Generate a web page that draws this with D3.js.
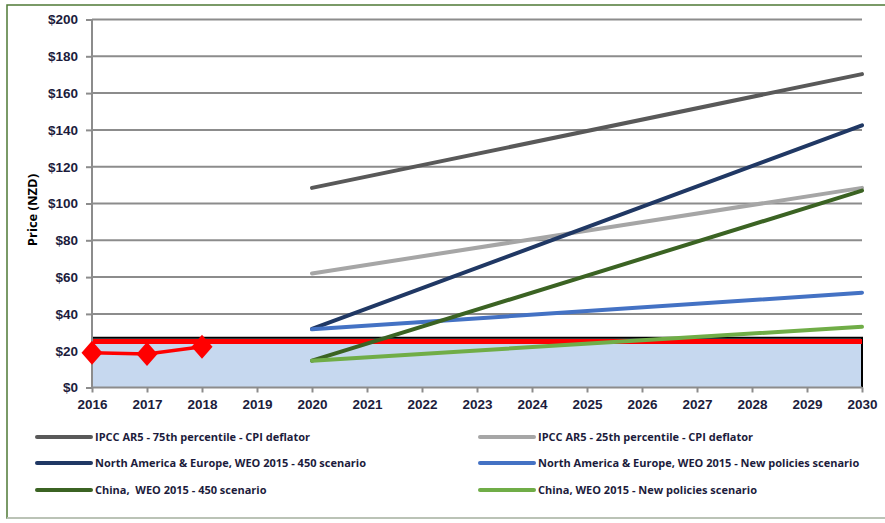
<!DOCTYPE html>
<html>
<head>
<meta charset="utf-8">
<script src="https://cdn.jsdelivr.net/npm/d3@7"></script>
<style>
  body { margin: 0; background: #fff; }
  svg { display: block; font-family: "Open Sans", "Liberation Sans", sans-serif; }
</style>
</head>
<body>
<div id="container"></div>
<script>
/* DATA */
const years = d3.range(2016, 2031);
const yTicks = [0, 20, 40, 60, 80, 100, 120, 140, 160, 180, 200];

// fixed price band (2016-2030)
const bandYears = [2016, 2030];
const bandTop = [27, 27];
const capPrice = [25, 25];

// actual prices
const actualYears = [2016, 2017, 2018];
const actualPrice = [18.9, 18.2, 22.2];

// projections (2020 -> 2030)
const projYears = [2020, 2030];
const ipcc75 = [108.5, 170.3];
const ipcc25 = [62, 108.5];
const naeWeo450 = [31.8, 142.5];
const naeWeoNew = [31.6, 51.5];
const chinaWeo450 = [14.6, 107];
const chinaWeoNew = [14.6, 33];

const seriesNames = [
  "IPCC AR5 - 75th percentile - CPI deflator",
  "IPCC AR5 - 25th percentile - CPI deflator",
  "North America & Europe, WEO 2015 - 450 scenario",
  "North America & Europe, WEO 2015 - New policies scenario",
  "China,  WEO 2015 - 450 scenario",
  "China, WEO 2015 - New policies scenario"
];
const seriesColors = ["#595959", "#a6a6a6", "#203864", "#4472c4", "#3b6323", "#70ad47"];
const seriesValues = [ipcc75, ipcc25, naeWeo450, naeWeoNew, chinaWeo450, chinaWeoNew];

/* CONSTANTS */
const width = 885, height = 523;
const plotLeft = 92, plotRight = 862, plotTop = 19.5, plotBottom = 387.5;
const textColor = "#1c1c3c";

const svg = d3.select("#container").append("svg")
  .attr("width", width)
  .attr("height", height);

// outer frame (left and top edges show; right runs off the page)
svg.append("rect")
  .attr("x", 7).attr("y", 5)
  .attr("width", width + 10).attr("height", 513)
  .attr("fill", "none")
  .attr("stroke", "#4f7a36")
  .attr("stroke-width", 1.5);
svg.append("line")
  .attr("x1", 7).attr("x2", width)
  .attr("y1", 518).attr("y2", 518)
  .attr("stroke", "#d0d0d0").attr("stroke-width", 1.5);

/* SCALES */
const xScale = d3.scaleLinear().domain([2016, 2030]).range([plotLeft, plotRight]);
const yScale = d3.scaleLinear().domain([0, 200]).range([plotBottom, plotTop]);

// gridlines
svg.append("g")
  .selectAll("line")
  .data(yTicks.filter(d => d > 0))
  .join("line")
  .attr("x1", plotLeft).attr("x2", plotRight)
  .attr("y1", d => yScale(d)).attr("y2", d => yScale(d))
  .attr("stroke", "#8c8c8c")
  .attr("stroke-width", 2);

// fixed price area
const band = bandYears.map((y, i) => ({ year: y, v: bandTop[i] }));
svg.append("path")
  .datum(band)
  .attr("fill", "#c6d8ef")
  .attr("d", d3.area().x(d => xScale(d.year)).y0(yScale(0)).y1(d => yScale(d.v)));
svg.append("path")
  .datum(band.concat([{ year: 2030, v: 0 }]))
  .attr("fill", "none")
  .attr("stroke", "#000")
  .attr("stroke-width", 2)
  .attr("d", d3.line().x(d => xScale(d.year)).y(d => yScale(d.v)));

// cap line
svg.append("path")
  .datum(bandYears.map((y, i) => ({ year: y, v: capPrice[i] })))
  .attr("fill", "none")
  .attr("stroke", "#ff0000")
  .attr("stroke-width", 5)
  .attr("d", d3.line().x(d => xScale(d.year)).y(d => yScale(d.v)));

// axes
const yAxis = d3.axisLeft(yScale).tickValues(yTicks).tickSize(6).tickFormat(d => "$" + d);
const gy = svg.append("g").attr("transform", `translate(${plotLeft},0)`).call(yAxis);
const xAxis = d3.axisBottom(xScale).tickValues(years).tickSize(5).tickFormat(d3.format("d"));
const gx = svg.append("g").attr("transform", `translate(0,${plotBottom})`).call(xAxis);

[gx, gy].forEach(g => {
  g.select(".domain").attr("stroke", "#8c8c8c").attr("stroke-width", 2);
  g.selectAll(".tick line").attr("stroke", "#8c8c8c").attr("stroke-width", 2);
  g.selectAll(".tick text")
    .attr("fill", textColor)
    .style("font-size", "13.5px")
    .style("font-weight", "bold");
});
gy.select(".domain").attr("d", `M0,${plotBottom}V${plotTop}`);
gy.selectAll(".tick text").attr("x", -14);
gx.select(".domain").attr("d", `M${plotLeft},0H${plotRight}`);
gx.selectAll(".tick text").attr("y", 12);

// projection lines
const line = d3.line().x(d => xScale(d.year)).y(d => yScale(d.v));
seriesValues.forEach((vals, i) => {
  svg.append("path")
    .datum(projYears.map((y, j) => ({ year: y, v: vals[j] })))
    .attr("fill", "none")
    .attr("stroke", seriesColors[i])
    .attr("stroke-width", 4)
    .attr("stroke-linecap", "round")
    .attr("d", line);
});

// actual prices
const actual = actualYears.map((y, i) => ({ year: y, v: actualPrice[i] }));
svg.append("path")
  .datum(actual)
  .attr("fill", "none")
  .attr("stroke", "#ff0000")
  .attr("stroke-width", 3.5)
  .attr("d", line);
svg.append("g")
  .selectAll("path")
  .data(actual)
  .join("path")
  .attr("fill", "#ff0000")
  .attr("transform", d => `translate(${xScale(d.year)},${yScale(d.v)})`)
  .attr("d", "M0,-12L10.5,0L0,12L-10.5,0Z");

// y axis title
svg.append("text")
  .attr("transform", "translate(37,210) rotate(-90)")
  .attr("text-anchor", "middle")
  .attr("fill", "#000")
  .style("font-size", "13px")
  .style("font-weight", "bold")
  .text("Price (NZD)");

// legend
const legendPos = [[37, 437], [480, 437], [37, 463], [480, 463], [37, 490], [480, 490]];
const legend = svg.append("g")
  .selectAll("g")
  .data(seriesNames)
  .join("g")
  .attr("transform", (d, i) => `translate(${legendPos[i][0]},${legendPos[i][1]})`);
legend.append("line")
  .attr("x1", 0).attr("x2", 54)
  .attr("stroke", (d, i) => seriesColors[i])
  .attr("stroke-width", 4)
  .attr("stroke-linecap", "round");
legend.append("text")
  .attr("x", 58)
  .attr("dy", "0.35em")
  .attr("fill", textColor)
  .style("font-size", "11px")
  .style("font-weight", "bold")
  .style("white-space", "pre")
  .text(d => d);
</script>
</body>
</html>
